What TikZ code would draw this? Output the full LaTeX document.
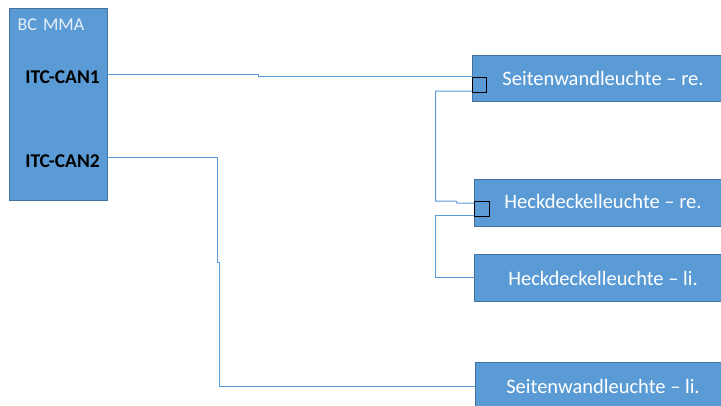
\documentclass[tikz,border=0pt]{standalone}
\usepackage{fontspec}
\setmainfont{Carlito}
\definecolor{boxfill}{HTML}{5B9BD5}
\definecolor{boxedge}{HTML}{41719C}
\definecolor{wire}{HTML}{5B9BD5}
\begin{document}
\begin{tikzpicture}[x=1pt,y=-1pt,
  unitbox/.style={draw=boxedge,fill=boxfill,line width=0.8pt},
  unitlabel/.style={text=white,font=\fontsize{20.5}{22}\selectfont,anchor=base,inner sep=0pt},
  portlabel/.style={text=black,font=\bfseries\fontsize{19.5}{22}\selectfont,anchor=base east,inner sep=0pt},
  wireline/.style={draw=wire,line width=1pt},
  portsq/.style={draw=black,line width=0.9pt}]
\useasboundingbox (0,0) rectangle (721,405);
\clip (0,0) rectangle (721,405);
% BCM box
\draw[unitbox] (9,8) rectangle (107,200);
\node[text=white!85!boxfill,font=\fontsize{18}{20}\selectfont,anchor=base west,inner sep=0pt] (bcm) at (17.5,30) {BC\,\,MMA};
\node[portlabel] (can1) at (100,83) {ITC-CAN1};
\node[portlabel] (can2) at (100,167) {ITC-CAN2};
\coordinate (p1) at (107,74);
\coordinate (p2) at (107,157);
% lamp boxes
\draw[unitbox] (472,55) rectangle (725,101);
\node[unitlabel] (sre) at (603,85) {Seitenwandleuchte – re.};
\draw[unitbox] (474,179) rectangle (725,226);
\node[unitlabel] (hre) at (603,208) {Heckdeckelleuchte – re.};
\draw[unitbox] (474,254) rectangle (725,301);
\node[unitlabel] (hli) at (603,285) {Heckdeckelleuchte – li.};
\draw[unitbox] (475,362) rectangle (725,410);
\node[unitlabel] (sli) at (603,393) {Seitenwandleuchte – li.};
% port squares
\draw[portsq] (472,77) rectangle (486,92);
\draw[portsq] (474,201) rectangle (489,216);
% wires
\draw[wireline] (p1) -- (258,74) -- (258,76) -- (472,76);
\draw[wireline] (472,91) -- (435.5,91) -- (435.5,201) -- (456,201) -- (457,203) -- (474,203);
\draw[wireline] (474,215) -- (435.5,215) -- (435.5,277) -- (474,277);
\draw[wireline] (p2) -- (217,157) -- (217,262) -- (219,262) -- (219,386) -- (475,386);
\end{tikzpicture}
\end{document}
